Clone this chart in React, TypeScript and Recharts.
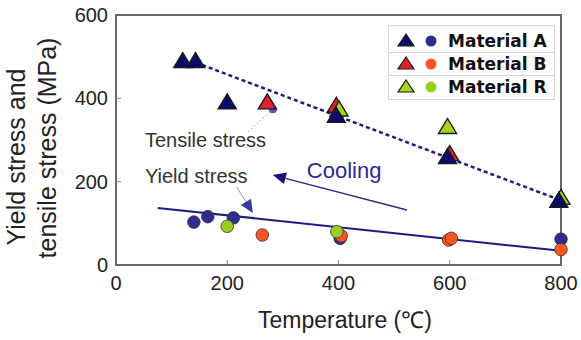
import React from "react";
import {
  ScatterChart,
  Scatter,
  XAxis,
  YAxis,
  ReferenceLine,
  ReferenceArea,
  ReferenceDot,
} from "recharts";

type Pt = { x: number; y: number };

const xTicks = [0, 200, 400, 600, 800];
const yTicks = [0, 200, 400, 600];

// tensile stress (triangles), MPa vs °C
const tensileA: Pt[] = [
  { x: 120, y: 488 },
  { x: 143, y: 488 },
  { x: 200, y: 389 },
  { x: 396, y: 357 },
  { x: 596, y: 258 },
  { x: 796, y: 153 },
];
const tensileB: Pt[] = [
  { x: 272, y: 389 },
  { x: 396, y: 381 },
  { x: 600, y: 265 },
];
const tensileR: Pt[] = [
  { x: 401, y: 372 },
  { x: 596, y: 330 },
  { x: 800, y: 160 },
];

// yield stress (circles)
const yieldA: Pt[] = [
  { x: 140, y: 103 },
  { x: 165, y: 116 },
  { x: 211, y: 113 },
  { x: 403, y: 64 },
  { x: 800, y: 62 },
];
const yieldB: Pt[] = [
  { x: 263, y: 72 },
  { x: 405, y: 70 },
  { x: 598, y: 60 },
  { x: 603, y: 64 },
  { x: 800, y: 37 },
];
const yieldR: Pt[] = [
  { x: 200, y: 93 },
  { x: 397, y: 80 },
];

// trend lines
const tensileFit: Pt[] = [
  { x: 155, y: 480 },
  { x: 800, y: 155 },
];
const yieldFit: Pt[] = [
  { x: 75, y: 137 },
  { x: 800, y: 34 },
];

// annotation arrows (tail, head)
const coolingArrow: Pt[] = [
  { x: 523, y: 132 },
  { x: 282, y: 216 },
];
const yieldLeader: Pt[] = [
  { x: 217, y: 187 },
  { x: 246, y: 125 },
];
const tensileLeader: Pt[] = [
  { x: 237, y: 319 },
  { x: 282, y: 374 },
];

const notes = [
  { x: 52, y: 283, text: "Tensile stress", color: "#333", size: 20 },
  { x: 52, y: 197, text: "Yield stress", color: "#333", size: 20 },
  { x: 343, y: 209, text: "Cooling", color: "#2a2a9a", size: 22 },
];

const materials = [
  { name: "Material A", tri: "#0b0b6b", dot: "#2e2e92" },
  { name: "Material B", tri: "#e4202a", dot: "#ff5424" },
  { name: "Material R", tri: "#a8d41e", dot: "#9ccd22" },
];

const font = "'Liberation Sans', Arial, sans-serif";
const navy = "#1c1c82";

const triangle = (fill: string) => (p: any) => {
  const { cx, cy } = p;
  const w = 18;
  const h = 15;
  return (
    <polygon
      points={`${cx},${cy - h * 0.6} ${cx - w / 2},${cy + h * 0.4} ${cx + w / 2},${cy + h * 0.4}`}
      fill={fill}
      stroke="#1a1a1a"
      strokeWidth={1.4}
    />
  );
};

const circle = (fill: string) => (p: any) => (
  <circle cx={p.cx} cy={p.cy} r={6.3} fill={fill} stroke="#333" strokeWidth={0.8} />
);

// line with a filled arrowhead at (x2, y2)
const arrow = (color: string, headColor: string, width: number, dash?: string) => (p: any) => {
  const { x1, y1, x2, y2 } = p;
  const a = Math.atan2(y2 - y1, x2 - x1);
  const len = 13;
  const half = 6;
  const bx = x2 - len * Math.cos(a);
  const by = y2 - len * Math.sin(a);
  const px = -Math.sin(a) * half;
  const py = Math.cos(a) * half;
  return (
    <g>
      <line x1={x1} y1={y1} x2={bx} y2={by} stroke={color} strokeWidth={width} strokeDasharray={dash} />
      <polygon points={`${x2},${y2} ${bx + px},${by + py} ${bx - px},${by - py}`} fill={headColor} />
    </g>
  );
};

const yLabel = () => (
  <g fontFamily={font} fontSize={25} fill="#222" textAnchor="middle">
    <text x={25} y={157} transform="rotate(-90, 25, 157)">
      Yield stress and
    </text>
    <text x={56} y={148} transform="rotate(-90, 56, 148)">
      tensile stress (MPa)
    </text>
  </g>
);

const xLabel = () => (
  <text x={345} y={328} fontFamily={font} fontSize={23} fill="#222" textAnchor="middle">
    Temperature (℃)
  </text>
);

function Legend() {
  return (
    <div
      style={{
        position: "absolute",
        left: 388,
        top: 25,
        width: 165,
        paddingTop: 4,
        paddingBottom: 1,
        border: "1px solid #d6d6d6",
        background: "#fff",
        fontFamily: "'DejaVu Sans', sans-serif",
        fontWeight: "bold",
        fontSize: 17,
        color: "#111",
      }}
    >
      {materials.map((m, i) => (
        <div
          key={m.name}
          style={{
            display: "flex",
            alignItems: "center",
            height: 22,
            borderTop: i ? "1px solid #d6d6d6" : "none",
          }}
        >
          <svg width={58} height={22}>
            <polygon points="17,4 9,16 25,16" fill={m.tri} stroke="#1a1a1a" strokeWidth={1.2} />
            <circle cx={42} cy={11} r={5.5} fill={m.dot} />
          </svg>
          <span style={{ marginLeft: 1 }}>{m.name}</span>
        </div>
      ))}
    </div>
  );
}

export default function App() {
  return (
    <div style={{ position: "absolute", left: 0, top: 0, width: 581, height: 340, background: "#fff" }}>
      <ScatterChart width={581} height={340} margin={{ top: 15, right: 20, bottom: 0, left: 0 }}>
        <XAxis
          type="number"
          dataKey="x"
          domain={[0, 800]}
          ticks={xTicks}
          interval={0}
          height={75}
          axisLine={false}
          tickLine={false}
          tickMargin={5}
          tick={{ fill: "#222", fontSize: 20, fontFamily: font }}
          label={{ content: xLabel }}
        />
        <YAxis
          type="number"
          dataKey="y"
          domain={[0, 600]}
          ticks={yTicks}
          interval={0}
          width={116}
          axisLine={false}
          tickLine={false}
          tick={{ fill: "#222", fontSize: 20, fontFamily: font }}
          label={{ content: yLabel }}
        />
        <ReferenceArea x1={0} x2={800} y1={0} y2={600} fill="none" stroke="#666" strokeWidth={2} />
        {xTicks.slice(1, -1).map((t) => (
          <ReferenceLine key={`xt${t}`} segment={[{ x: t, y: 0 }, { x: t, y: 12 }]} stroke="#888" />
        ))}
        {yTicks.slice(1, -1).map((t) => (
          <ReferenceLine key={`yt${t}`} segment={[{ x: 0, y: t }, { x: 9, y: t }]} stroke="#888" />
        ))}

        <ReferenceLine
          segment={tensileFit}
          stroke={navy}
          strokeWidth={2.5}
          strokeDasharray="4 3"
          ifOverflow="visible"
        />
        <ReferenceLine segment={yieldFit} stroke={navy} strokeWidth={2} ifOverflow="visible" />

        <ReferenceLine segment={coolingArrow} ifOverflow="visible" shape={arrow("#2a2a8a", "#14147a", 1.3)} />
        <ReferenceLine segment={yieldLeader} ifOverflow="visible" shape={arrow("#9a9ab0", "#3838a0", 1)} />
        <ReferenceLine
          segment={tensileLeader}
          ifOverflow="visible"
          stroke="#e0b4c8"
          strokeWidth={1.2}
          strokeDasharray="2 2"
        />
        <ReferenceDot
          x={tensileLeader[1].x}
          y={tensileLeader[1].y}
          r={4}
          fill="#5a50c8"
          stroke="none"
        />

        {notes.map((n) => (
          <ReferenceDot
            key={n.text}
            x={n.x}
            y={n.y}
            shape={(p: any) => (
              <text x={p.cx} y={p.cy} fill={n.color} fontSize={n.size} fontFamily={font}>
                {n.text}
              </text>
            )}
          />
        ))}

        <Scatter data={yieldA} shape={circle(materials[0].dot)} isAnimationActive={false} />
        <Scatter data={yieldB} shape={circle(materials[1].dot)} isAnimationActive={false} />
        <Scatter data={yieldR} shape={circle(materials[2].dot)} isAnimationActive={false} />
        <Scatter data={tensileB} shape={triangle(materials[1].tri)} isAnimationActive={false} />
        <Scatter data={tensileR} shape={triangle(materials[2].tri)} isAnimationActive={false} />
        <Scatter data={tensileA} shape={triangle(materials[0].tri)} isAnimationActive={false} />
      </ScatterChart>
      <Legend />
    </div>
  );
}
